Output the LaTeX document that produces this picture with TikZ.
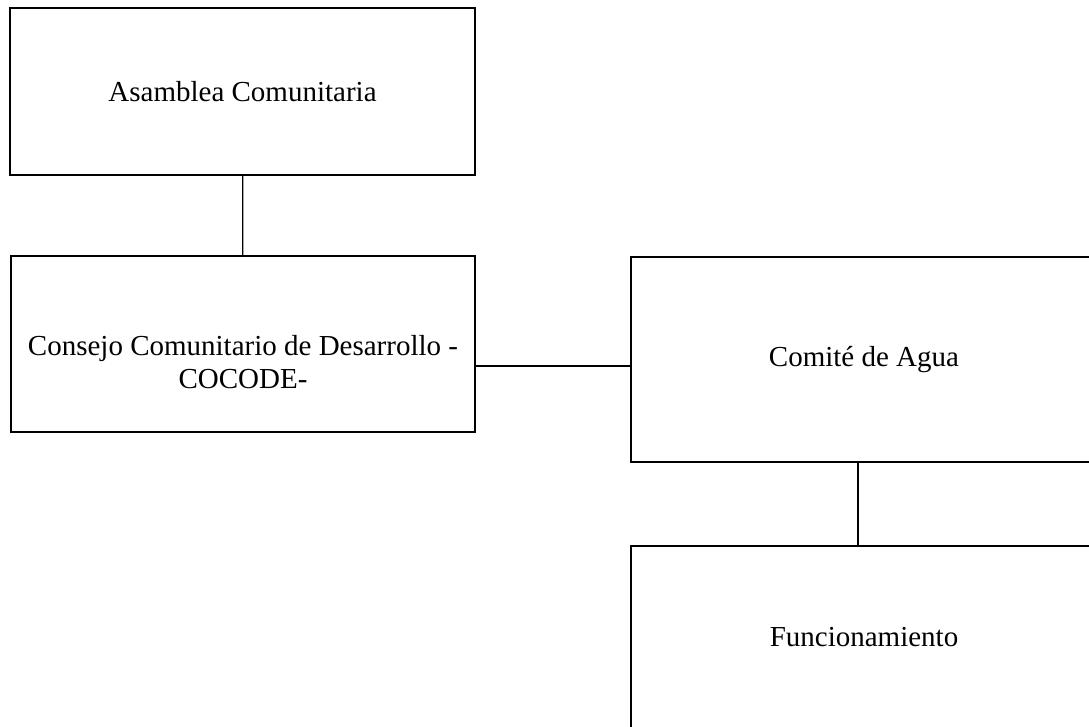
\documentclass[tikz,border=0pt]{standalone}
\usepackage{fontspec}
\setmainfont{Liberation Serif}
\usetikzlibrary{positioning}
\tikzset{
    org-box/.style = {draw=black, fill=white, line width=0.7pt, rectangle, inner sep=0pt, align=center, font=\fontsize{14.5}{16.5}\selectfont},
    org-text/.style = {inner sep=0pt, align=center, font=\fontsize{14.5}{16.5}\selectfont},
    org-line/.style = {draw=black, line width=0.6pt},
}

\begin{document}
\begin{tikzpicture}[x=0.5pt,y=-0.5pt]
\useasboundingbox (0,0) rectangle (1089,727);
\clip (0,0) rectangle (1089,727);
\node[org-box, minimum width=232.5pt, minimum height=83.5pt] (asamblea) at (242.5,91.5) {Asamblea Comunitaria};
\node[org-box, minimum width=232pt, minimum height=88pt] (consejo) at (243,344) {};
\node[org-text] (consejo-text) at ([yshift=-9pt]consejo.center) {Consejo Comunitario de Desarrollo -\\COCODE-};
\node[org-box, minimum width=233pt, minimum height=102.5pt] (comite) at (864,359.5) {Comité de Agua};
\node[org-box, minimum width=233pt, minimum height=91pt] (funcionamiento) at (864,637) {Funcionamiento};
\draw[org-line] (asamblea) -- (consejo);
\draw[org-line] ([yshift=-11pt]consejo.east) -- ([yshift=-11pt]consejo.east -| comite.west);
\draw[org-line] ([xshift=-3pt]comite.south) -- ([xshift=-3pt]funcionamiento.north);
\end{tikzpicture}
\end{document}
